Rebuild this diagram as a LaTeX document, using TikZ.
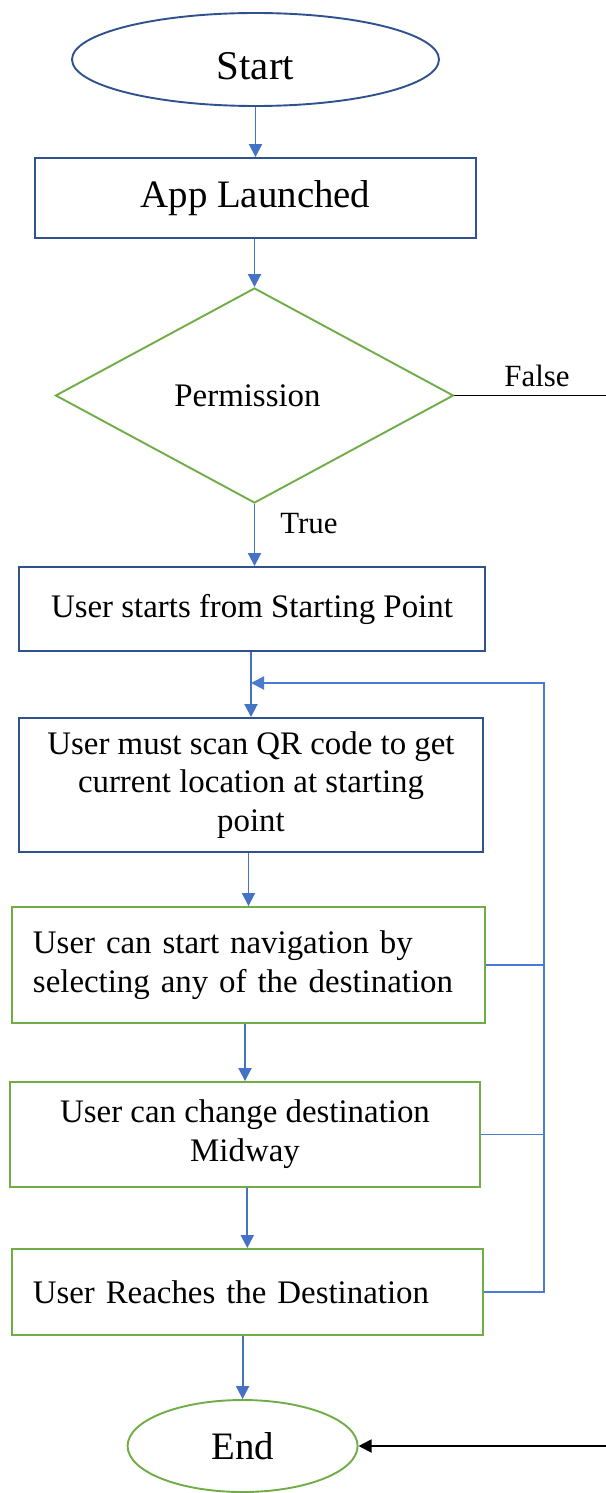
\documentclass[tikz,border=0pt]{standalone}
\usepackage{fontspec}
\setmainfont{Liberation Serif}
\usetikzlibrary{shapes.geometric,arrows.meta,calc}
\definecolor{dkblue}{HTML}{2F528F}
\definecolor{arblue}{HTML}{4472C4}
\definecolor{lpblue}{HTML}{4A7BD0}
\definecolor{grn}{HTML}{70AD47}
\tikzset{
  box/.style={draw=dkblue, line width=1.9bp, rectangle, inner sep=0pt, align=center,
    font=\fontsize{33}{39}\selectfont},
  gbox/.style={box, draw=grn},
  arr/.style={draw=arblue, line width=1.9bp, -{Triangle[width=13bp,length=13bp]}},
  loopline/.style={draw=lpblue, line width=1.9bp},
  blk/.style={draw=black, line width=1.9bp},
  lbl/.style={font=\fontsize{31}{36}\selectfont, inner sep=0pt},
}
\begin{document}
\begin{tikzpicture}[x=1bp,y=-1bp]
\useasboundingbox (0,0) rectangle (606,1493);
\fill[white] (0,0) rectangle (606,1493);

\node[ellipse, draw=dkblue, line width=1.9bp, minimum width=367bp, minimum height=93bp, inner sep=0pt,
  font=\fontsize{41}{46}\selectfont] (start) at (255.5,59.5) {\raisebox{-20bp}[0pt][0pt]{Start}};
\node[box, minimum width=441bp, minimum height=80bp, font=\fontsize{39}{44}\selectfont] (app) at (255.5,198) {App Launched};
\node[diamond, draw=grn, line width=1.9bp, minimum width=398bp, minimum height=215bp, inner sep=0pt,
  font=\fontsize{33}{39}\selectfont] (perm) at (254.5,395.5) {Permission\hspace*{14bp}};
\node[box, minimum width=466bp, minimum height=84bp] (s1) at (252,609) {User starts from Starting Point};
\node[box, minimum width=464bp, minimum height=134bp] (qr) at (251,785)
  {User must scan QR code to get\\current location at starting\\point};
\node[gbox, minimum width=473bp, minimum height=116bp, text width=431bp, inner xsep=21bp, align=left] (nav) at (248.5,965)
  {User can start navigation by\\selecting any of the destination};
\node[gbox, minimum width=470bp, minimum height=105bp] (chg) at (245,1134.5)
  {User can change destination\\Midway};
\node[gbox, minimum width=471bp, minimum height=86bp, text width=429bp, inner xsep=21bp, align=left] (reach) at (247.3,1292)
  {User Reaches the Destination};
\node[ellipse, draw=grn, line width=1.9bp, minimum width=230bp, minimum height=92bp, inner sep=0pt,
  font=\fontsize{39}{44}\selectfont] (end) at (242.6,1446) {End};

\node[lbl] (flbl) at (537,376) {False};
\node[lbl] (tlbl) at (309,524) {True};

\coordinate (fr) at (606,395.5);
\coordinate (er) at (606,1446);
\coordinate (ltop) at (544,683);

% main flow
\draw[arr] (app.north |- start.south) -- (app.north);
\draw[arr] (perm.north |- app.south) -- (perm.north);
\draw[arr] (perm.south) -- (perm.south |- s1.north);
\draw[arr] (qr.north |- s1.south) -- (qr.north);
\draw[arr] (nav.north |- qr.south) -- (nav.north);
\draw[arr] (chg.north |- nav.south) -- (chg.north);
\draw[arr] (reach.north |- chg.south) -- (reach.north);
\draw[arr] (end.north |- reach.south) -- (end.north);

% false branch
\draw[blk] (perm.east) -- (fr);
\draw[blk, -{Triangle[width=13bp,length=13bp]}] (er) -- (end.east);

% loop back
\draw[loopline] (nav.east) -- (nav.east -| ltop);
\draw[loopline] (chg.east) -- (chg.east -| ltop);
\draw[loopline, -{Triangle[width=13bp,length=13bp]}] (reach.east) -- (reach.east -| ltop) -- (ltop) -- (qr.north |- ltop);
\end{tikzpicture}
\end{document}
